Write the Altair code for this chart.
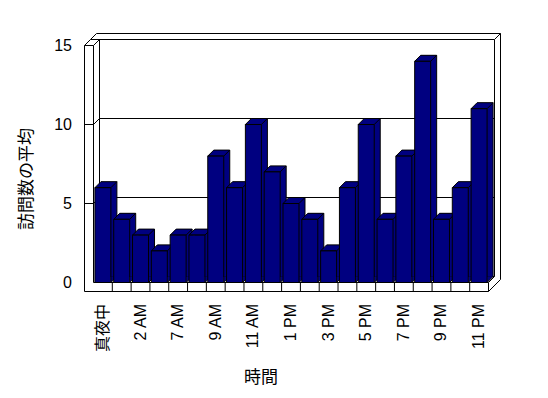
import json
import altair as alt
import pandas as pd

# ---- data ----
hours = ['真夜中', '1 AM', '2 AM', '6 AM', '7 AM', '8 AM', '9 AM', '10 AM', '11 AM', '正午',
         '1 PM', '2 PM', '3 PM', '4 PM', '5 PM', '6 PM', '7 PM', '8 PM', '9 PM', '10 PM', '11 PM']
visits = [6, 4, 3, 2, 3, 3, 8, 6, 10, 7, 5, 4, 2, 6, 10, 4, 8, 14, 4, 6, 11]
shown_labels = ['真夜中', '2 AM', '7 AM', '9 AM', '11 AM', '1 PM', '3 PM', '5 PM', '7 PM', '9 PM', '11 PM']
y_ticks = [0, 5, 10, 15]
grid_vals = [5, 10]

df = pd.DataFrame({'hour': hours, 'v': visits})
grid_df = pd.DataFrame({'g': grid_vals})
one = pd.DataFrame({'k': [0]})

W, H = 395, 237          # front plane
DX, DY = 6, -6           # depth offset
WALL = 9                 # wall / floor thickness
NAVY = '#000080'
LATIN = 'Liberation Sans'
CJK = 'Noto Sans CJK JP'

PAD_IN = 0.15
xscale = alt.Scale(paddingInner=PAD_IN, paddingOuter=PAD_IN / 2)
yscale = alt.Scale(domain=[0, 15], nice=False)
step = W / len(hours)
bw = step * (1 - PAD_IN)

label_expr = "indexof(" + json.dumps(shown_labels, ensure_ascii=False) + ", datum.value) >= 0 ? datum.label : ''"

xaxis = alt.Axis(title='時間', labelAngle=270, ticks=False, domain=False, grid=False,
                 labelPadding=21, labelExpr=label_expr, labelFont=LATIN + ', ' + CJK,
                 labelFontSize=16, labelColor='black', titleFont=CJK, titleFontSize=17,
                 titleFontWeight='normal', titleColor='black', titleX=167, titleY=95,
                 titleBaseline='middle', titleAlign='center', labelAlign='right',
                 labelBaseline='middle')
yaxis = alt.Axis(title='訪問数の平均', values=y_ticks, ticks=False, domain=False, grid=False,
                 labelPadding=22, labelFont=LATIN, labelFontSize=16, labelColor='black',
                 titleFont=CJK, titleFontSize=17, titleFontWeight='normal', titleColor='black',
                 titleX=-67, titleY=133, titleAngle=270, titleBaseline='middle', titleAlign='center')


def Xb(bp=None):
    if bp is None:
        return alt.X('hour:N', sort=hours, scale=xscale, axis=xaxis)
    return alt.X('hour:N', sort=hours, scale=xscale, axis=xaxis, bandPosition=bp)


Y = alt.Y('v:Q', scale=yscale, axis=yaxis)


def seg(x1, y1, x2, y2):
    return alt.Chart(one).mark_rule(color='black', strokeWidth=1).encode(
        x=alt.value(x1), y=alt.value(y1), x2=alt.value(x2), y2=alt.value(y2))


# back wall (top and right faces) and back plane
back = [
    seg(-WALL + DX, DY, W + DX, DY),
    seg(DX, DY, DX, H + DY),
    seg(W + DX, DY, W + DX, H + DY),
    seg(DX, H + DY, W + DX, H + DY),
    seg(-WALL + DX, DY, -WALL + 2 * DX, 2 * DY),
    seg(-WALL + 2 * DX, 2 * DY, W + 2 * DX, 2 * DY),
    seg(W + DX, DY, W + 2 * DX, 2 * DY),
    seg(W + 2 * DX, 2 * DY, W + 2 * DX, H + WALL + 2 * DY),
    seg(-WALL, 0, -WALL + DX, DY),
    seg(0, 0, DX, DY),
    seg(W, H, W + DX, H + DY),
    seg(W, H + WALL, W + 2 * DX, H + WALL + 2 * DY),
]

grid_back = alt.Chart(grid_df).mark_rule(color='black', yOffset=DY).encode(
    y=alt.Y('g:Q', scale=yscale, axis=yaxis), x=alt.value(DX), x2=alt.value(W + DX))
grid_side = alt.Chart(grid_df).mark_rule(color='black', y2Offset=DY).encode(
    y=alt.Y('g:Q', scale=yscale, axis=yaxis), y2=alt.Y2('g:Q'), x=alt.value(0), x2=alt.value(DX))
grid_wall = alt.Chart(grid_df).mark_rule(color='black').encode(
    y=alt.Y('g:Q', scale=yscale, axis=yaxis), x=alt.value(-WALL), x2=alt.value(0))

# custom symbol shapes: unit = bar width (symbol size = (2*bw)^2)
u = bw
a, b = DX / u, DY / u
top_face = f"M0,0 L{a:.4f},{b:.4f} L{1 + a:.4f},{b:.4f} L1,0 Z"
bottom_tri = f"M0,0 L{a:.4f},{b:.4f} L0,{b:.4f} Z"
bottom_diag = f"M0,0 L{a:.4f},{b:.4f}"
sym_size = (2 * u) ** 2

# side face body (shifted rect, no stroke)
bars_depth = alt.Chart(df).mark_bar(color=NAVY, strokeWidth=0,
                                    xOffset=DX, yOffset=DY, y2Offset=DY).encode(x=Xb(), y=Y)
side_edge = alt.Chart(df).mark_rule(color='black', xOffset=DX, yOffset=DY).encode(
    x=Xb(1), y=Y, y2=alt.value(H + DY))
bot_fill = alt.Chart(df).mark_point(shape=bottom_tri, size=sym_size, filled=True, fill=NAVY,
                                    strokeWidth=0, opacity=1).encode(x=Xb(1), y=alt.value(H))
bot_line = alt.Chart(df).mark_point(shape=bottom_diag, size=sym_size, filled=False,
                                    stroke='black', strokeWidth=1, opacity=1).encode(x=Xb(1), y=alt.value(H))
top = alt.Chart(df).mark_point(shape=top_face, size=sym_size, filled=True, fill=NAVY,
                               stroke='black', strokeWidth=1, opacity=1).encode(x=Xb(0), y=Y)
bars_front = alt.Chart(df).mark_bar(color=NAVY, stroke='black', strokeWidth=1).encode(x=Xb(), y=Y)

front = [
    seg(-WALL, 0, -WALL, H + WALL),
    seg(-WALL, 0, 0, 0),
    seg(0, 0, 0, H),
    seg(-WALL, H + WALL, W, H + WALL),
    seg(0, H, W, H),
    seg(W, H, W, H + WALL),
]

floor_ticks = alt.Chart(df).transform_filter(
    alt.datum.hour != hours[0]
).mark_rule(color='black', xOffset=-step * PAD_IN / 2).encode(
    x=Xb(0), y=alt.value(H), y2=alt.value(H + WALL))

chart = alt.layer(
    *back, grid_back, grid_side, grid_wall,
    bars_depth, bot_fill, bot_line, side_edge, top, bars_front,
    *front, floor_ticks
).properties(
    width=W, height=H,
    autosize=alt.AutoSizeParams(type='none'),
    padding={'left': 85.5, 'top': 37.5, 'right': 51.5, 'bottom': 107.5},
    background='white'
).configure_view(stroke=None)

chart.save("out.html", embed_options={"renderer": "svg", "actions": False})
